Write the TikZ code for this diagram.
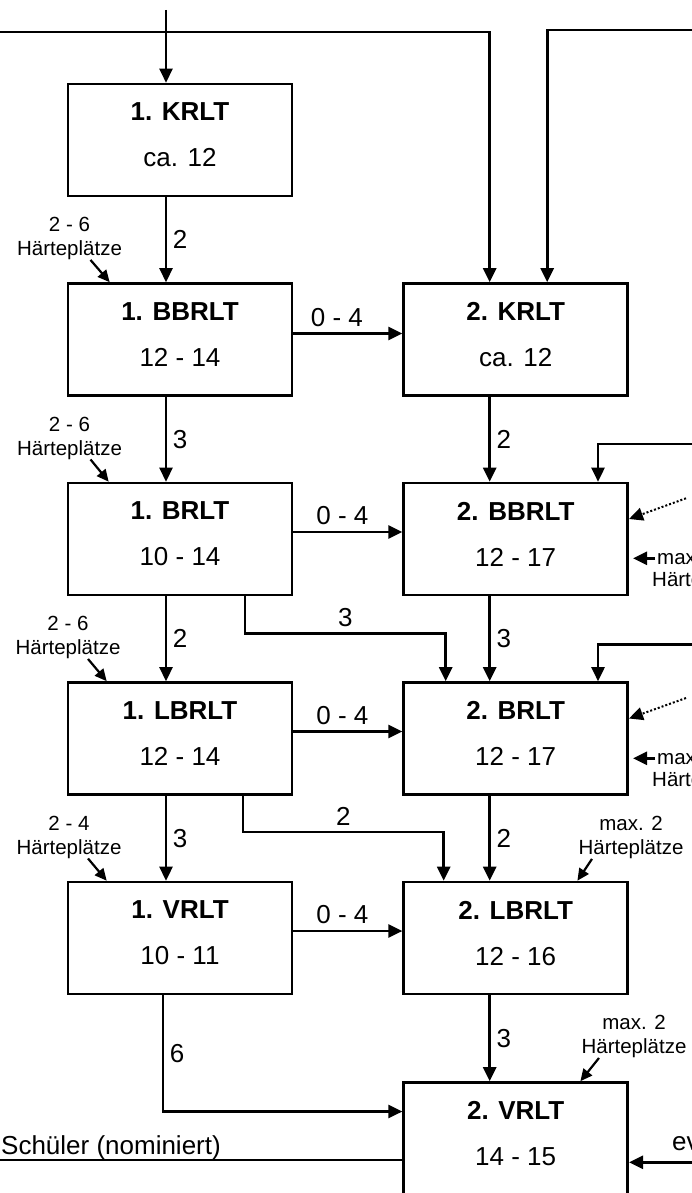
\documentclass[tikz,border=0pt]{standalone}
\usepackage{fontspec}
\setmainfont{Liberation Sans}
\usetikzlibrary{arrows.meta, calc}

\begin{document}
\begin{tikzpicture}[x=1pt, y=-1pt,
    rlt/.style={draw, line width=2.6pt, minimum width=224pt, minimum height=112pt, align=center, font=\fontsize{26}{46}\selectfont},
    arr/.style={line width=2.6pt, -{Triangle[length=14pt,width=13pt]}},
    arrs/.style={line width=2.2pt, -{Triangle[length=12pt,width=11pt]}},
    dots/.style={line width=2pt, dash pattern=on 2pt off 2pt, -{Triangle[length=14pt,width=13pt]}},
    num/.style={font=\fontsize{26}{30}\selectfont, inner sep=5.5pt},
    note/.style={font=\fontsize{20.5}{24}\selectfont, inner sep=0pt}]
    \useasboundingbox (0,0) rectangle (692,1193);
    \clip (0,0) rectangle (692,1193);

    \node[rlt] (k1) at (180,140) {\textbf{1. KRLT}\\ca. 12\rule[-10pt]{0pt}{10pt}};
    \node[rlt] (bb1) at (180,339.5) {\textbf{1. BBRLT}\\12 - 14\rule[-10pt]{0pt}{10pt}};
    \node[rlt] (br1) at (180,539) {\textbf{1. BRLT}\\10 - 14\rule[-10pt]{0pt}{10pt}};
    \node[rlt] (lb1) at (180,738.5) {\textbf{1. LBRLT}\\12 - 14\rule[-10pt]{0pt}{10pt}};
    \node[rlt] (vr1) at (180,938) {\textbf{1. VRLT}\\10 - 11\rule[-10pt]{0pt}{10pt}};
    \node[rlt] (k2) at (515.7,339.5) {\textbf{2. KRLT}\\ca. 12\rule[-10pt]{0pt}{10pt}};
    \node[rlt] (bb2) at (515.7,539) {\textbf{2. BBRLT}\\12 - 17\rule[-10pt]{0pt}{10pt}};
    \node[rlt] (br2) at (515.7,738.5) {\textbf{2. BRLT}\\12 - 17\rule[-10pt]{0pt}{10pt}};
    \node[rlt] (lb2) at (515.7,938) {\textbf{2. LBRLT}\\12 - 16\rule[-10pt]{0pt}{10pt}};
    \node[rlt] (vr2) at (515.7,1138.5) {\textbf{2. VRLT}\\14 - 15\rule[-10pt]{0pt}{10pt}};

    \coordinate (in1) at (166,10);
    \coordinate (inl) at (0,32);
    \coordinate (inr) at (692,30);
    \coordinate (fb2) at (692,444);
    \coordinate (fb3) at (692,644.3);
    \coordinate (dt2) at (686,498.3);
    \coordinate (dt3) at (686,698);
    \coordinate (evr) at (692,1162.3);
    \coordinate (out) at (-5,1160);

    \draw[arr] (in1) -- ([xshift=-14]k1.north);
    \draw[arr] (inl) -| ([xshift=-26]k2.north);
    \draw[arr] (inr) -| ([xshift=31.5]k2.north);

    \draw[arr] ([xshift=-14]k1.south) -- node[num, right]{2} ([xshift=-14]bb1.north);
    \draw[arr] ([xshift=-14]bb1.south) -- node[num, right]{3} ([xshift=-14]br1.north);
    \draw[arr] ([xshift=-14]br1.south) -- node[num, right]{2} ([xshift=-14]lb1.north);
    \draw[arr] ([xshift=-14]lb1.south) -- node[num, right]{3} ([xshift=-14]vr1.north);
    \draw[arr] ([xshift=-26]k2.south) -- node[num, right]{2} ([xshift=-26]bb2.north);
    \draw[arr] ([xshift=-26]bb2.south) -- node[num, right]{3} ([xshift=-26]br2.north);
    \draw[arr] ([xshift=-26]br2.south) -- node[num, right]{2} ([xshift=-26]lb2.north);
    \draw[arr] ([xshift=-26]lb2.south) -- node[num, right]{3} ([xshift=-26]vr2.north);

    \draw[arr] ([yshift=6]bb1.east) -- node[num, above, pos=0.4]{0 - 4} ([yshift=6]k2.west);
    \draw[arr] ([yshift=7]br1.east) -- node[num, above, pos=0.45]{0 - 4} ([yshift=7]bb2.west);
    \draw[arr] ([yshift=7]lb1.east) -- node[num, above, pos=0.45]{0 - 4} ([yshift=7]br2.west);
    \draw[arr] ([yshift=7]vr1.east) -- node[num, above, pos=0.45]{0 - 4} ([yshift=7]lb2.west);

    \draw[arr] ([xshift=65]br1.south) -- ++(0,37) -| node[num, above, pos=0.25]{3} ([xshift=-70]br2.north);
    \draw[arr] ([xshift=63]lb1.south) -- ++(0,36) -| node[num, above, pos=0.25]{2} ([xshift=-72]lb2.north);
    \draw[arr] ([xshift=-17]vr1.south) |- node[num, right, pos=0.25]{6} ([yshift=27]vr2.west);

    \draw[arr] (fb2) -| ([xshift=82.3]bb2.north);
    \draw[arr] (fb3) -| ([xshift=82.3]br2.north);
    \draw[dots] (dt2) -- ([yshift=20]bb2.east);
    \draw[dots] (dt3) -- ([yshift=20]br2.east);

    \node[note, anchor=base] (hz1a) at (69.5,231.5) {2 - 6};
    \node[note, anchor=base] (hz1b) at (69.5,255.5) {Härteplätze};
    \node[note, anchor=base] (hz2a) at (69.5,431) {2 - 6};
    \node[note, anchor=base] (hz2b) at (69.5,455) {Härteplätze};
    \node[note, anchor=base] (hz3a) at (68,630.5) {2 - 6};
    \node[note, anchor=base] (hz3b) at (68,654.5) {Härteplätze};
    \node[note, anchor=base] (hz4a) at (69,830) {2 - 4};
    \node[note, anchor=base] (hz4b) at (69,854) {Härteplätze};
    \draw[arrs] ([xshift=21]hz1b.south) -- ([xshift=43]bb1.north west);
    \draw[arrs] ([xshift=21]hz2b.south) -- ([xshift=42]br1.north west);
    \draw[arrs] ([xshift=20]hz3b.south) -- ([xshift=40]lb1.north west);
    \draw[arrs] ([xshift=19]hz4b.south) -- ([xshift=40]vr1.north west);

    \node[note, anchor=base] (mx4a) at (631,830.5) {max. 2};
    \node[note, anchor=base] (mx4b) at (631,854.5) {Härteplätze};
    \node[note, anchor=base] (mx5a) at (634,1029.5) {max. 2};
    \node[note, anchor=base] (mx5b) at (634,1053.5) {Härteplätze};
    \draw[arrs] ([xshift=-39]mx4b.south) -- ([xshift=175]lb2.north west);
    \draw[arrs] ([xshift=-35]mx5b.south) -- ([xshift=178]vr2.north west);

    \node[note, anchor=base west] (mx2a) at (657,564) {max. 2};
    \node[note, anchor=base west] (mx2b) at (652,586) {Härteplätze};
    \node[note, anchor=base west] (mx3a) at (657,764) {max. 2};
    \node[note, anchor=base west] (mx3b) at (652,786) {Härteplätze};
    \draw[arr] ([xshift=-2]mx2a.west |- 0,558.3) -- ([xshift=4,yshift=-19.3]bb2.east);
    \draw[arr] ([xshift=-2]mx3a.west |- 0,758.3) -- ([xshift=4,yshift=-19.8]br2.east);

    \node[num, anchor=base west, inner sep=0pt] (sch) at (1,1154.5) {Schüler (nominiert)};
    \draw[line width=2.6pt] ([yshift=-21.5]vr2.west) -- (out);
    \node[num, anchor=base west, inner sep=0pt] (ev) at (672,1150) {ev};
    \draw[arr] (evr) -- ([yshift=-23.8]vr2.east);
\end{tikzpicture}
\end{document}
